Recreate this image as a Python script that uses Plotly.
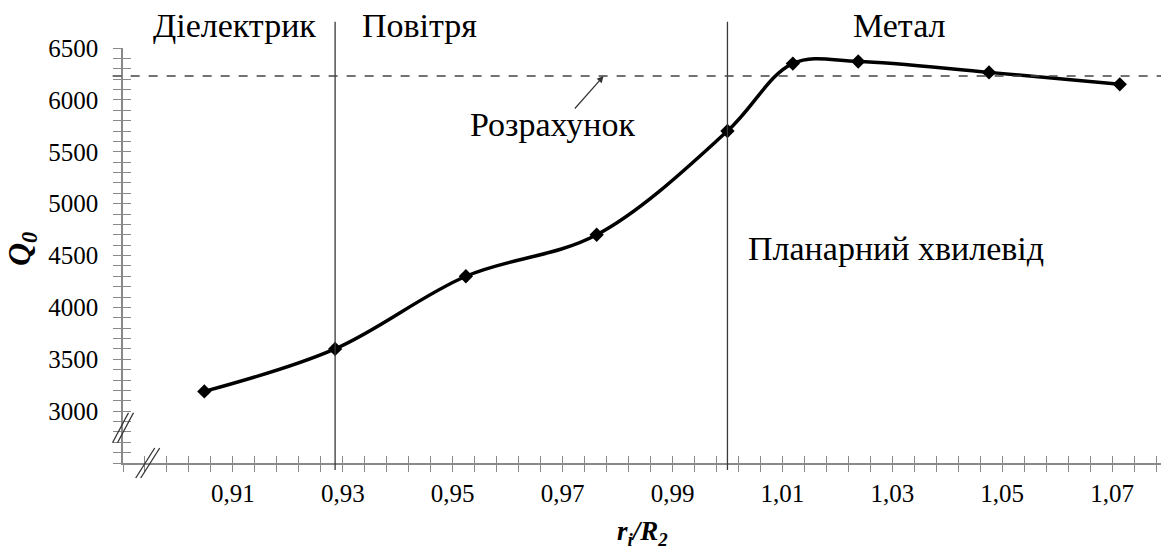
import plotly.graph_objects as go

# Data
ratio = [0.9048, 0.9286, 0.9524, 0.9762, 1.0, 1.0119, 1.0238, 1.0476, 1.0714]
q0 = [3190, 3600, 4300, 4700, 5700, 6350, 6370, 6265, 6150]
calc_q0 = 6230
boundaries = [0.9286, 1.0]

x_tickvals = [0.91, 0.93, 0.95, 0.97, 0.99, 1.01, 1.03, 1.05, 1.07]
x_ticktext = ["0,91", "0,93", "0,95", "0,97", "0,99", "1,01", "1,03", "1,05", "1,07"]
y_tickvals = [3000, 3500, 4000, 4500, 5000, 5500, 6000, 6500]
y_ticktext = ["3000", "3500", "4000", "4500", "5000", "5500", "6000", "6500"]

region_labels = ["Діелектрик", "Повітря", "Метал"]
region_x = [0.9103, 0.944, 1.0313]
calc_label = "Розрахунок"
planar_label = "Планарний хвилевід"

XR = [0.89, 1.0789]
YR = [2500, 6500]
AX = "#898989"
FONT = "Liberation Serif"

fig = go.Figure()
fig.add_trace(go.Scatter(
    x=ratio, y=q0, mode="lines+markers",
    line=dict(color="black", width=3.5, shape="spline", smoothing=1),
    marker=dict(symbol="diamond", size=11, color="black"),
    showlegend=False, hoverinfo="skip"))
# invisible trace to activate the overlay axes (inside half of cross ticks)
fig.add_trace(go.Scatter(x=ratio, y=q0, xaxis="x2", yaxis="y2", mode="markers",
                         marker=dict(opacity=0), showlegend=False, hoverinfo="skip"))

common_x = dict(range=XR, showgrid=False, zeroline=False, showline=True,
                linecolor=AX, linewidth=1.5, tickcolor=AX, tickwidth=1.3,
                ticklen=7, tickmode="array", tickvals=x_tickvals,
                minor=dict(tick0=0.89, dtick=0.004, ticklen=7, tickcolor=AX, tickwidth=1.3))
common_y = dict(range=YR, showgrid=False, zeroline=False, showline=True,
                linecolor=AX, linewidth=1.5, tickcolor=AX, tickwidth=1.3,
                ticklen=8, tickmode="array", tickvals=y_tickvals,
                minor=dict(tick0=2500, dtick=100, ticklen=8, tickcolor=AX, tickwidth=1.3))

fig.update_layout(
    width=1161, height=553,
    margin=dict(l=123, r=0, t=48, b=90),
    paper_bgcolor="white", plot_bgcolor="white",
    font=dict(family=FONT, color="black", size=24),
    xaxis=dict(**common_x, ticks="outside", ticktext=x_ticktext,
               minor_ticks="outside", tickfont=dict(size=25, family=FONT)),
    yaxis=dict(**common_y, ticks="outside", ticktext=y_ticktext, ticklabelstandoff=10,
               minor_ticks="outside", tickfont=dict(size=25, family=FONT)),
    xaxis2=dict(**common_x, ticks="inside", minor_ticks="inside",
                overlaying="x", anchor="y2", showticklabels=False),
    yaxis2=dict(**common_y, ticks="inside", minor_ticks="inside",
                overlaying="y", anchor="x2", showticklabels=False),
)

# boundary lines
for b in boundaries:
    fig.add_shape(type="line", xref="x", yref="paper", x0=b, x1=b, y0=-0.017, y1=1.063,
                  line=dict(color="#3a3a3a", width=1.3))
# calculated level
fig.add_shape(type="line", xref="paper", yref="y", x0=-0.01, x1=1, y0=calc_q0, y1=calc_q0,
              line=dict(color="#444444", width=1.3, dash="dash"))

# axis break marks
for dx in (-2.5, 2.5):
    fig.add_shape(type="line", xref="paper", yref="y", xsizemode="pixel", ysizemode="pixel",
                  xanchor=0, yanchor=2840, x0=-8 + dx, x1=8 + dx, y0=-15, y1=15,
                  line=dict(color="#333333", width=1.3))
    fig.add_shape(type="line", xref="x", yref="paper", xsizemode="pixel", ysizemode="pixel",
                  xanchor=0.8945, yanchor=0, x0=-9.5 + dx, x1=9.5 + dx, y0=-15, y1=15,
                  line=dict(color="#333333", width=1.3))

ann_font = dict(family=FONT, size=34, color="black")
for lab, xv in zip(region_labels, region_x):
    fig.add_annotation(x=xv, y=1.055, xref="x", yref="paper", text=lab, showarrow=False,
                       xanchor="center", yanchor="middle", font=ann_font)
fig.add_annotation(x=0.9682, y=5767, xref="x", yref="y", text=calc_label, showarrow=False,
                   xanchor="center", yanchor="middle", font=ann_font)
fig.add_annotation(x=1.0306, y=4563, xref="x", yref="y", text=planar_label, showarrow=False,
                   xanchor="center", yanchor="middle", font=ann_font)
# arrow to calculated level
fig.add_annotation(x=0.97745, y=calc_q0, xref="x", yref="y", text="", showarrow=True,
                   ax=-30, ay=34, arrowhead=2, arrowsize=1.1, arrowwidth=1.2,
                   arrowcolor="#333333", standoff=0)

# axis titles
fig.add_annotation(x=-0.0973, y=0.5157, xref="paper", yref="paper",
                   text="<b><i>Q</i></b><sub><b><i>0</i></b></sub>", textangle=-90,
                   showarrow=False, xanchor="center", yanchor="middle",
                   font=dict(family=FONT, size=32, color="black"))
fig.add_annotation(x=0.5, y=-0.168, xref="paper", yref="paper",
                   text="<b><i>r</i></b><sub><b><i>i</i></b></sub><b><i>/R</i></b><sub><b><i>2</i></b></sub>",
                   showarrow=False, xanchor="center", yanchor="middle",
                   font=dict(family=FONT, size=27, color="black"))

fig.write_html("out.html")
